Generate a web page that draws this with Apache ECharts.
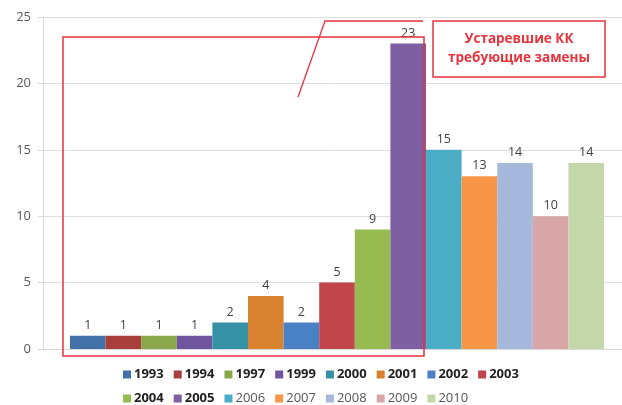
<!DOCTYPE html>
<html><head><meta charset="utf-8">
<script src="https://cdn.jsdelivr.net/npm/echarts@6/dist/echarts.min.js"></script>
<style>html,body{margin:0;padding:0;background:#fff}#c{width:622px;height:405px}</style>
</head><body><div id="c"></div>
<script>
const years = ['1993','1994','1997','1999','2000','2001','2002','2003','2004','2005','2006','2007','2008','2009','2010'];
const counts = [1,1,1,1,2,4,2,5,9,23,15,13,14,10,14];
const colors = ['#4270a8','#a93f3d','#88a84a','#6e559e','#3592a6','#d8812f','#4a80c4','#c1464b','#98bb51','#7e60a2','#4bacc6','#f79646','#a6b9dc','#d9a6a8','#c4d7a8'];
const boldYears = ['1993','1994','1997','1999','2000','2001','2002','2003','2004','2005'];
const yTicks = [0,5,10,15,20,25];
const calloutText = ['Устаревшие КК','требующие замены'];

const chart = echarts.init(document.getElementById('c'), null, {renderer:'canvas'});
const series = years.map((y,i)=>({
  name: y, type:'bar', data:[counts[i]],
  itemStyle:{color:colors[i]},
  barGap:'0%', barCategoryGap:'6.3%',
  label:{show:true, position:'top', distance:4, color:'#404040', fontSize:12.5, fontFamily:'Open Sans'}
}));
function legendItems(list){
  return list.map(y=>({name:y, textStyle:{fontWeight: boldYears.includes(y)?'bold':'normal', color: boldYears.includes(y)?'#222':'#555'}}));
}
chart.setOption({
  animation:false,
  grid:[{left:52, right:0, top:17, bottom:56},{left:43, right:0, top:17, bottom:56}],
  xAxis:[
    {type:'category', data:[''], gridIndex:0, axisLine:{show:false}, axisTick:{show:false}, axisLabel:{show:false}},
    {type:'category', data:[''], gridIndex:1, axisLine:{lineStyle:{color:'#d9d9d9'}}, axisTick:{show:false}, axisLabel:{show:false}}
  ],
  yAxis:[
    {type:'value', gridIndex:0, min:yTicks[0], max:yTicks[yTicks.length-1], interval:5, offset:9,
    axisLine:{show:true, lineStyle:{color:'#d9d9d9'}},
    axisTick:{show:true, length:5, lineStyle:{color:'#d9d9d9'}},
    axisLabel:{color:'#595959', fontSize:13, margin:12, fontFamily:'Open Sans'},
    splitLine:{show:false}, z:3},
    {type:'value', gridIndex:1, min:yTicks[0], max:yTicks[yTicks.length-1], interval:5,
    axisLine:{show:false}, axisTick:{show:false}, axisLabel:{show:false},
    splitLine:{lineStyle:{color:'#dedede'}}, z:0}
  ],
  legend:[
    {data:legendItems(years.slice(0,8)), left:118, top:363, itemWidth:8, itemHeight:8, itemGap:10, icon:'rect',
     textStyle:{fontSize:13, fontFamily:'Open Sans', padding:[0,0,0,-2]}},
    {data:legendItems(years.slice(8)), left:118, top:387, itemWidth:8, itemHeight:8, itemGap:10, icon:'rect',
     textStyle:{fontSize:13, fontFamily:'Open Sans', padding:[0,0,0,-2]}}
  ],
  series: series,
  graphic:[
    {type:'rect', shape:{x:63, y:37, width:361, height:319}, style:{fill:'none', stroke:'#e8323c', lineWidth:1.5}, z:100},
    {type:'polyline', shape:{points:[[298,97],[325,21],[423,21]]}, style:{fill:'none', stroke:'#e8323c', lineWidth:1.3}, z:100},
    {type:'rect', shape:{x:433, y:21, width:172, height:56}, style:{fill:'#fff', stroke:'#e8323c', lineWidth:1.5}, z:100},
    {type:'text', x:519, y:49, z:101, style:{text:calloutText.join('\n'), fill:'#e8323c', font:'bold 13.5px "Open Sans"', align:'center', verticalAlign:'middle', lineHeight:19}}
  ]
});
</script></body></html>
